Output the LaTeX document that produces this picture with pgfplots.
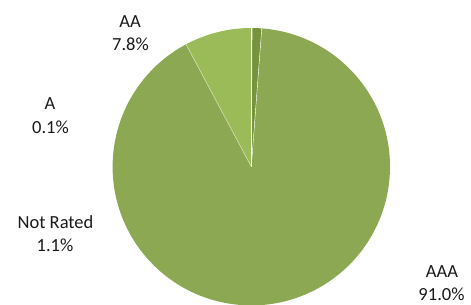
\documentclass[border=0pt]{standalone}
\usepackage{pgfplots}
\pgfplotsset{compat=1.18}
\usepackage{fontspec}
\setmainfont{Carlito}
\definecolor{cA}{HTML}{C4D79B}
\definecolor{cNR}{HTML}{77933C}
\definecolor{cAAA}{HTML}{8CA852}
\definecolor{cAA}{HTML}{9BBB59}
\definecolor{txt}{HTML}{1A1A1A}
% slice values (percent), clockwise from 12 o'clock
\def\vA{0.1}
\def\vNR{1.1}
\def\vAAA{91.0}
\def\vAA{7.8}
\pgfmathsetmacro\tA{90}
\pgfmathsetmacro\tB{\tA-3.6*\vA}
\pgfmathsetmacro\tC{\tB-3.6*\vNR}
\pgfmathsetmacro\tD{\tC-3.6*\vAAA}
\pgfmathsetmacro\tE{\tD-3.6*\vAA}
\def\R{138.7pt}
\begin{document}
\begin{tikzpicture}
\useasboundingbox (0,0) rectangle (471pt,305pt);
\begin{axis}[
  at={(251.3pt,138.3pt)}, anchor=origin,
  hide axis, scale only axis,
  width=277.4pt, height=277.4pt,
  xmin=-1, xmax=1, ymin=-1, ymax=1,
  clip=false,
]
\fill[cA]   (axis cs:0,0) -- ++(\tA:\R) arc[start angle=\tA, end angle=\tB, radius=\R] -- cycle;
\fill[cNR]  (axis cs:0,0) -- ++(\tB:\R) arc[start angle=\tB, end angle=\tC, radius=\R] -- cycle;
\fill[cAAA] (axis cs:0,0) -- ++(\tC:\R) arc[start angle=\tC, end angle=\tD, radius=\R] -- cycle;
\fill[cAA]  (axis cs:0,0) -- ++(\tD:\R) arc[start angle=\tD, end angle=\tE, radius=\R] -- cycle;
\draw[white, line width=0.4pt] (axis cs:0,0) -- ++(\tA:\R);
\draw[white, line width=0.3pt] (axis cs:0,0) -- ++(\tB:\R);
\draw[white, line width=0.4pt] (axis cs:0,0) -- ++(\tC:\R);
\draw[white!60!cAA, line width=0.5pt] (axis cs:0,0) -- ++(\tD:\R);
\end{axis}
\begin{scope}[every node/.style={anchor=base, inner sep=0pt, text=txt, font=\fontsize{18.5}{22}\selectfont}]
\node at (130pt,277pt) {AA};
\node at (130.5pt,254pt) {7.8\%};
\node at (50pt,195pt) {A};
\node at (50.5pt,171pt) {0.1\%};
\node at (55.5pt,76pt) {Not Rated};
\node at (55pt,53pt) {1.1\%};
\node at (442pt,27.5pt) {AAA};
\node at (441.5pt,4pt) {91.0\%};
\end{scope}
\end{tikzpicture}
\end{document}
